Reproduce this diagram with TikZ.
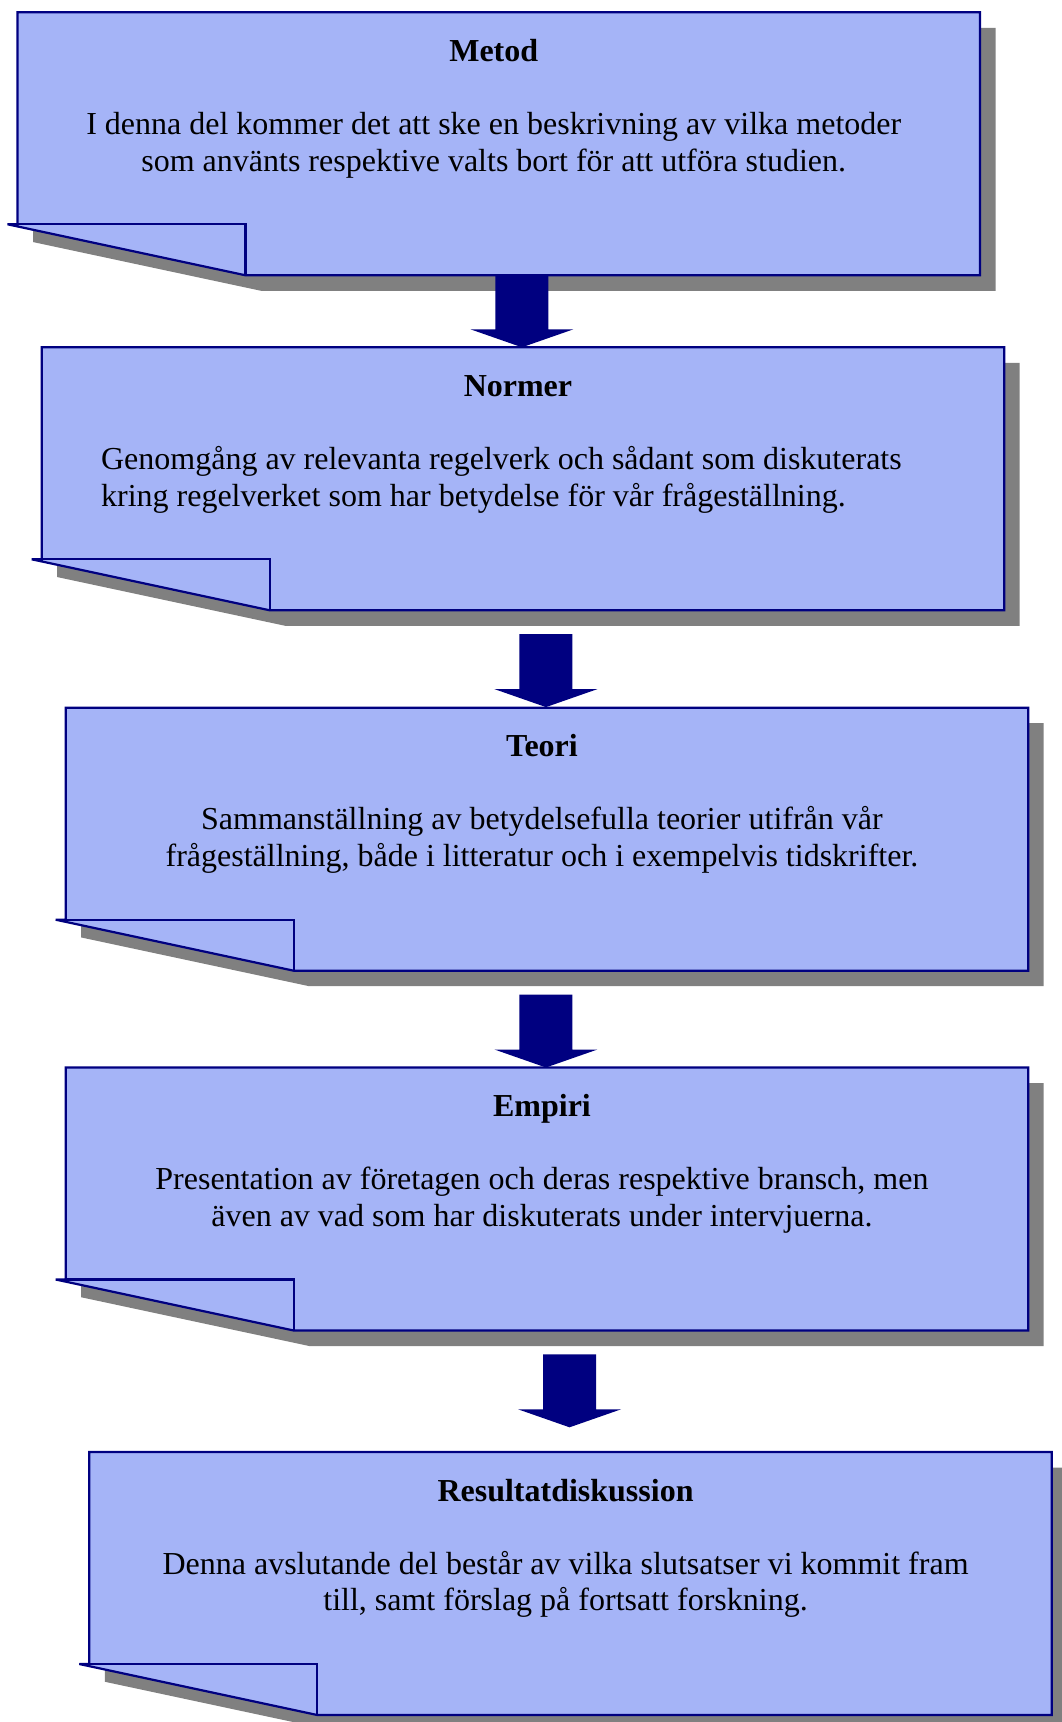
\documentclass[tikz,border=0pt]{standalone}
\usepackage{fontspec}
\setmainfont{Liberation Serif}
\usetikzlibrary{calc}
\definecolor{boxfill}{RGB}{165,180,247}
\definecolor{navyc}{RGB}{0,0,128}
\definecolor{shadowc}{RGB}{128,128,128}
\tikzset{
  area/.style={inner sep=0pt, outer sep=0pt, minimum width=481.25pt, minimum height=131.5pt, anchor=north west},
  boxline/.style={draw=navyc, line width=1.1pt, line join=miter, miter limit=4},
  ttl/.style={font=\fontsize{16}{18.4}\selectfont\bfseries, anchor=base, inner sep=0pt},
  body/.style={font=\fontsize{16}{18.4}\selectfont, anchor=base, inner sep=0pt},
  arr/.style={fill=navyc},
}
\newcommand\drawnote[1]{%
  \fill[shadowc] ($(#1.north west)+(15.5,15.5)$) -- ($(#1.north east)+(15.5,15.5)$)
    -- ($(#1.south east)+(15.5,15.5)$) -- ($(#1.south west)+(243.5,15.5)$)
    -- ($(#1.south west)+(15.5,-33.25)$) -- cycle;
  \filldraw[boxline, fill=boxfill] (#1.north west) -- (#1.north east) -- (#1.south east)
    -- ($(#1.south west)+(228,0)$) -- ($(#1.south west)+(-10,-51)$)
    -- ($(#1.south west)+(0,-51)$) -- cycle;
  \draw[boxline] ($(#1.south west)+(0,-51)$) -- ($(#1.south west)+(228,-51)$)
    -- ($(#1.south west)+(228,0)$);
}
\newcommand\blockarr[3]{%
  \coordinate (s-#1) at ($(#2.north |- #1.south)+(-1,#3)$);
  \fill[arr] ($(s-#1)+(-26.5,0)$) -- ($(s-#1)+(26.5,0)$) -- ($(s-#1)+(26.5,55)$)
    -- ($(s-#1)+(51.5,55)$) -- ($(s-#1)+(0,73)$) -- ($(s-#1)+(-51.5,55)$)
    -- ($(s-#1)+(-26.5,55)$) -- cycle;
}
\begin{document}
\begin{tikzpicture}[x=0.5pt, y=-0.5pt]
\useasboundingbox (0,0) rectangle (1061,1722);
\fill[white] (0,0) rectangle (1061,1722);

\node[area] (b1) at (17.5,12.3) {};
\node[area] (b2) at (41.7,347.3) {};
\node[area] (b3) at (65.7,707.7) {};
\node[area] (b4) at (65.7,1067.5) {};
\node[area] (b5) at (89.3,1452) {};

\drawnote{b1}
\drawnote{b2}
\drawnote{b3}
\drawnote{b4}
\drawnote{b5}

\blockarr{b1}{b2}{-1}
\blockarr{b2}{b3}{23.8}
\blockarr{b3}{b4}{23.8}
\blockarr{b4}{b5}{23.8}

% texts
\node[ttl] (t1) at ($(b1.north west)+(476.25,49)$) {Metod};
\node[body] (d1) at ($(b1.north west)+(476.25,122)$) {\begin{tabular}[t]{@{}c@{}}I denna del kommer det att ske en beskrivning av vilka metoder\\som använts respektive valts bort för att utföra studien.\end{tabular}};

\node[ttl] (t2) at ($(b2.north west)+(476.25,49)$) {Normer};
\node[body, anchor=base west] (d2) at ($(b2.north west)+(59,122)$) {\begin{tabular}[t]{@{}l@{}}Genomgång av relevanta regelverk och sådant som diskuterats\\kring regelverket som har betydelse för vår frågeställning.\end{tabular}};

\node[ttl] (t3) at ($(b3.north west)+(476.25,49)$) {Teori};
\node[body] (d3) at ($(b3.north west)+(476.25,122)$) {\begin{tabular}[t]{@{}c@{}}Sammanställning av betydelsefulla teorier utifrån vår\\frågeställning, både i litteratur och i exempelvis tidskrifter.\end{tabular}};

\node[ttl] (t4) at ($(b4.north west)+(476.25,49)$) {Empiri};
\node[body] (d4) at ($(b4.north west)+(476.25,122)$) {\begin{tabular}[t]{@{}c@{}}Presentation av företagen och deras respektive bransch, men\\även av vad som har diskuterats under intervjuerna.\end{tabular}};

\node[ttl] (t5) at ($(b5.north west)+(476.25,49)$) {Resultatdiskussion};
\node[body] (d5) at ($(b5.north west)+(476.25,122)$) {\begin{tabular}[t]{@{}c@{}}Denna avslutande del består av vilka slutsatser vi kommit fram\\till, samt förslag på fortsatt forskning.\end{tabular}};
\end{tikzpicture}
\end{document}
